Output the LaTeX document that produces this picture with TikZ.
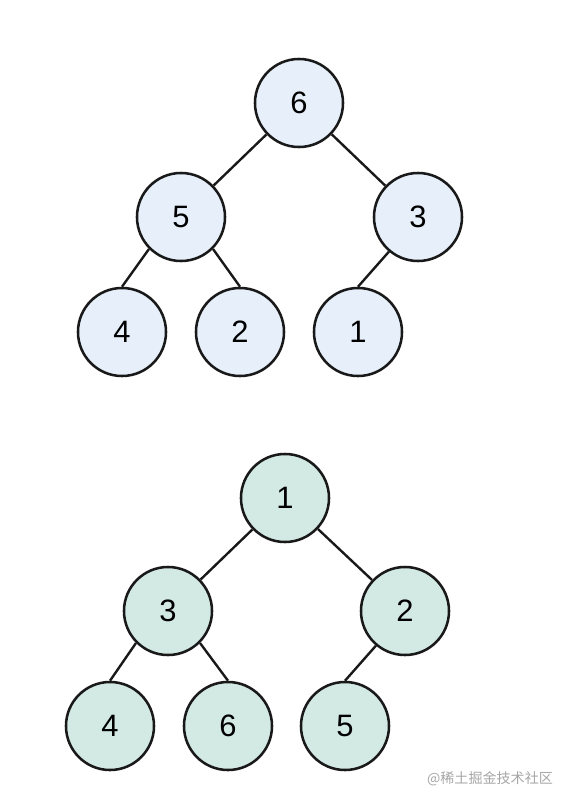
\documentclass[tikz,border=0pt]{standalone}
\usepackage{fontspec}
\setmainfont{Liberation Sans}
\newfontfamily\cjk{Noto Sans CJK SC}
\usepackage{tikz}
\usetikzlibrary{positioning}
\definecolor{heapblue}{HTML}{E6EFFA}
\definecolor{heapgreen}{HTML}{D3E9E4}
\tikzstyle{key}=[circle, draw=black!90, line width=1.8pt, minimum size=2.2cm,
                 inner sep=0pt, font=\fontsize{22}{26}\selectfont]
\tikzstyle{edge}=[line width=1.7pt, color=black!90]

\begin{document}
\begin{tikzpicture}[x=0.025cm, y=-0.025cm]
  \useasboundingbox (0,0) rectangle (566,803);
  % max-heap
  \node[key, fill=heapblue] (m6) at (299,103) {6};
  \node[key, fill=heapblue] (m5) at (181,217) {5};
  \node[key, fill=heapblue] (m3) at (418,217) {3};
  \node[key, fill=heapblue] (m4) at (122,332) {4};
  \node[key, fill=heapblue] (m2) at (240,332) {2};
  \node[key, fill=heapblue] (m1) at (358,332) {1};
  \draw[edge] (m6) -- (m5);
  \draw[edge] (m6) -- (m3);
  \draw[edge] (m5.-135) -- (m4.north);
  \draw[edge] (m5.-45) -- (m2.north);
  \draw[edge] (m3.-130) -- (m1.north);
  % min-heap
  \node[key, fill=heapgreen] (n1) at (285,498) {1};
  \node[key, fill=heapgreen] (n3) at (168,611) {3};
  \node[key, fill=heapgreen] (n2) at (405,611) {2};
  \node[key, fill=heapgreen] (n4) at (110,726) {4};
  \node[key, fill=heapgreen] (n6) at (228,726) {6};
  \node[key, fill=heapgreen] (n5) at (345,726) {5};
  \draw[edge] (n1) -- (n3);
  \draw[edge] (n1) -- (n2);
  \draw[edge] (n3.-135) -- (n4.north);
  \draw[edge] (n3.-45) -- (n6.north);
  \draw[edge] (n2.-130) -- (n5.north);
  \node[font=\cjk\fontsize{10}{12}\selectfont, text=black!35] (mark) at (490,779) {@稀土掘金技术社区};
\end{tikzpicture}
\end{document}
